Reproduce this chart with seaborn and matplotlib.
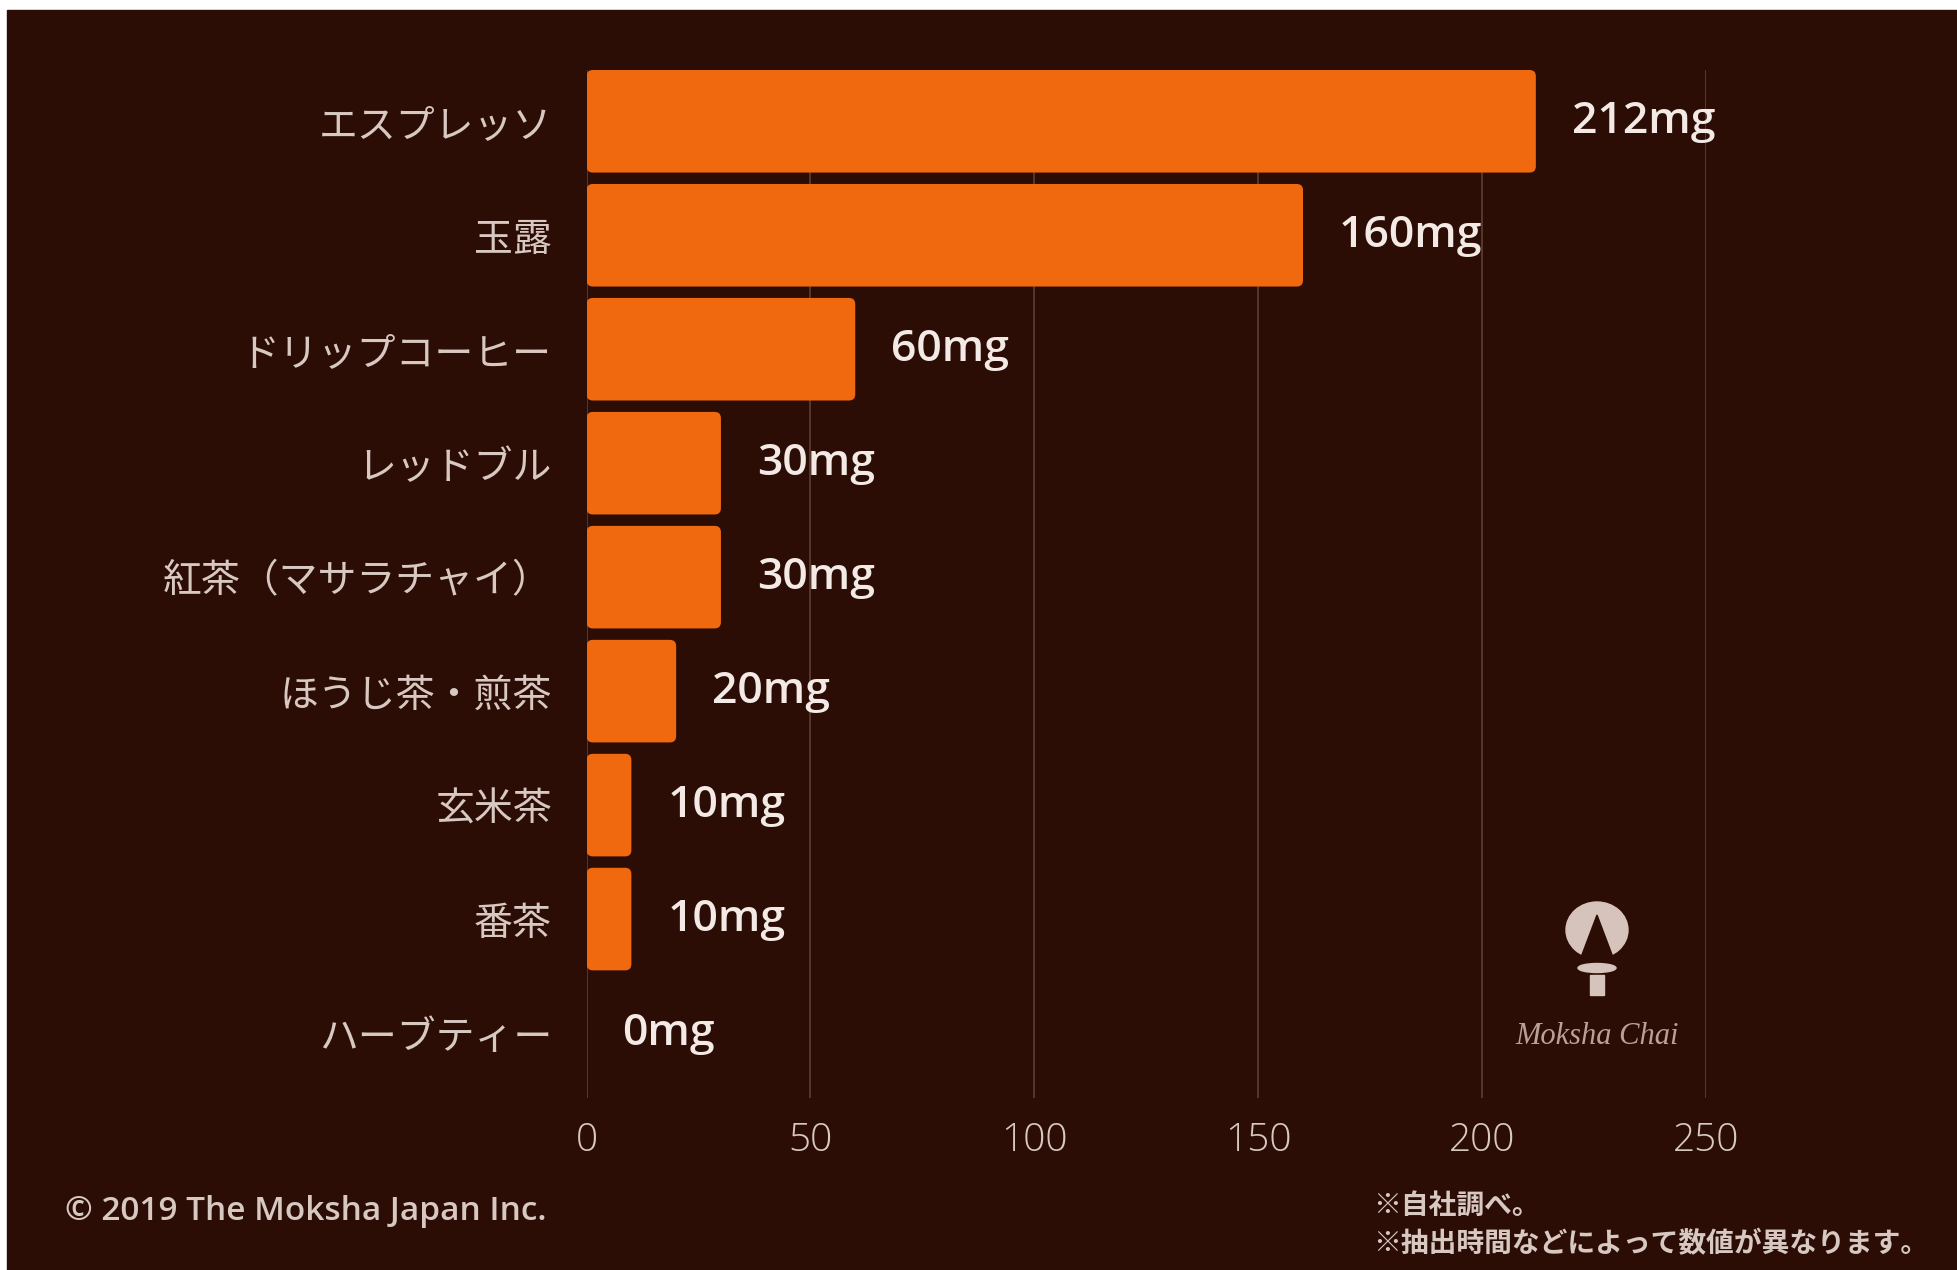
import numpy as np
import pandas as pd
import matplotlib.pyplot as plt
import matplotlib.patches as mpatches
import seaborn as sns

# データ（カフェイン量 mg）
drinks = ["エスプレッソ", "玉露", "ドリップコーヒー", "レッドブル", "紅茶（マサラチャイ）",
          "ほうじ茶・煎茶", "玄米茶", "番茶", "ハーブティー"]
caffeine_mg = [212, 160, 60, 30, 30, 20, 10, 10, 0]
x_ticks = [0, 50, 100, 150, 200, 250]

BG = "#2b0d05"
ORANGE = "#f0690f"
LABEL = "#d8c8c2"
VALUE = "#f3e9e5"
GRID = "#5a3b31"

W, H = 1957, 1270

sns.set_theme(style="dark")
plt.rcParams['font.family'] = ['Noto Sans CJK JP', 'DejaVu Sans']

fig = plt.figure(figsize=(W / 100, H / 100), dpi=100, facecolor="white")
fig.patches.append(mpatches.Rectangle((7 / W, 0), 1 - 7 / W, 1 - 10 / H,
                                      transform=fig.transFigure, color=BG, zorder=-10))

ax_left, ax_right, ax_top, ax_bot = 586.6, 1706, 70, 1098
ax = fig.add_axes([ax_left / W, 1 - ax_bot / H, (ax_right - ax_left) / W, (ax_bot - ax_top) / H])
ax.set_facecolor(BG)

df = pd.DataFrame({"drink": drinks, "mg": caffeine_mg})
sns.barplot(data=df, x="mg", y="drink", color=ORANGE, saturation=1, width=0.9,
            linewidth=0, ax=ax)

ax.set_xlim(0, 250)
ax.set_ylim(8.57, -0.45)

# 角丸のバーに置き換え
px_per_x = (ax_right - ax_left) / 250
px_per_y = (ax_bot - ax_top) / 9.02
for p in list(ax.patches):
    x0, y0, w, h = p.get_x(), p.get_y(), p.get_width(), p.get_height()
    p.remove()
    if w <= 0:
        continue
    ax.add_patch(mpatches.FancyBboxPatch(
        (x0, y0), w, h, boxstyle="round,pad=0,rounding_size=1.4",
        mutation_aspect=px_per_x / px_per_y, fc=ORANGE, ec="none", zorder=2))

ax.set_xticks(x_ticks)
ax.set_xlabel("")
ax.set_ylabel("")
ax.xaxis.grid(True, color=GRID, lw=1.3)
ax.yaxis.grid(False)
ax.set_axisbelow(True)
for s in ax.spines.values():
    s.set_visible(False)

ax.tick_params(axis="y", length=0, pad=25, labelsize=28, labelcolor=LABEL)
ax.tick_params(axis="x", length=0, pad=17, labelsize=28, labelcolor=LABEL)
for t in ax.get_xticklabels():
    t.set_family(["Open Sans", "DejaVu Sans"])
    t.set_fontweight("light")

for i, v in enumerate(caffeine_mg):
    ax.text(v + 8, i, f"{v}mg", va="center", ha="left", fontsize=32,
            color=VALUE, family=["Open Sans", "DejaVu Sans"], fontweight="semibold")

# クレジットと注記
fig.text(65 / W, 1 - 1211 / H, "© 2019 The Moksha Japan Inc.", fontsize=24,
         color=LABEL, family=["Open Sans", "DejaVu Sans"], fontweight="semibold",
         va="center", ha="left")
fig.text(1373 / W, 1 - 1206 / H, "※自社調べ。", fontsize=20, color=LABEL,
         fontweight="bold", va="center", ha="left")
fig.text(1373 / W, 1 - 1244 / H, "※抽出時間などによって数値が異なります。", fontsize=20,
         color=LABEL, fontweight="bold", va="center", ha="left")

# ロゴ（簡略）
logo = "#d6c3bb"
fig.patches.append(mpatches.Ellipse((1597 / W, 1 - 930 / H), 62 / W, 56 / H,
                                    transform=fig.transFigure, color=logo))
fig.patches.append(mpatches.Polygon([(1580 / W, 1 - 960 / H), (1597 / W, 1 - 915 / H),
                                     (1614 / W, 1 - 960 / H)],
                                    transform=fig.transFigure, color=BG))
fig.patches.append(mpatches.Ellipse((1597 / W, 1 - 968 / H), 38 / W, 9 / H,
                                    transform=fig.transFigure, color=logo))
fig.patches.append(mpatches.Rectangle((1590 / W, 1 - 995 / H), 14 / W, 20 / H,
                                      transform=fig.transFigure, color=logo))
fig.text(1597 / W, 1 - 1036 / H, "Moksha Chai", fontsize=22, color="#b9a199",
         family="Liberation Serif", style="italic", ha="center", va="center")

fig.savefig("out.png", dpi=100, facecolor=fig.get_facecolor())
